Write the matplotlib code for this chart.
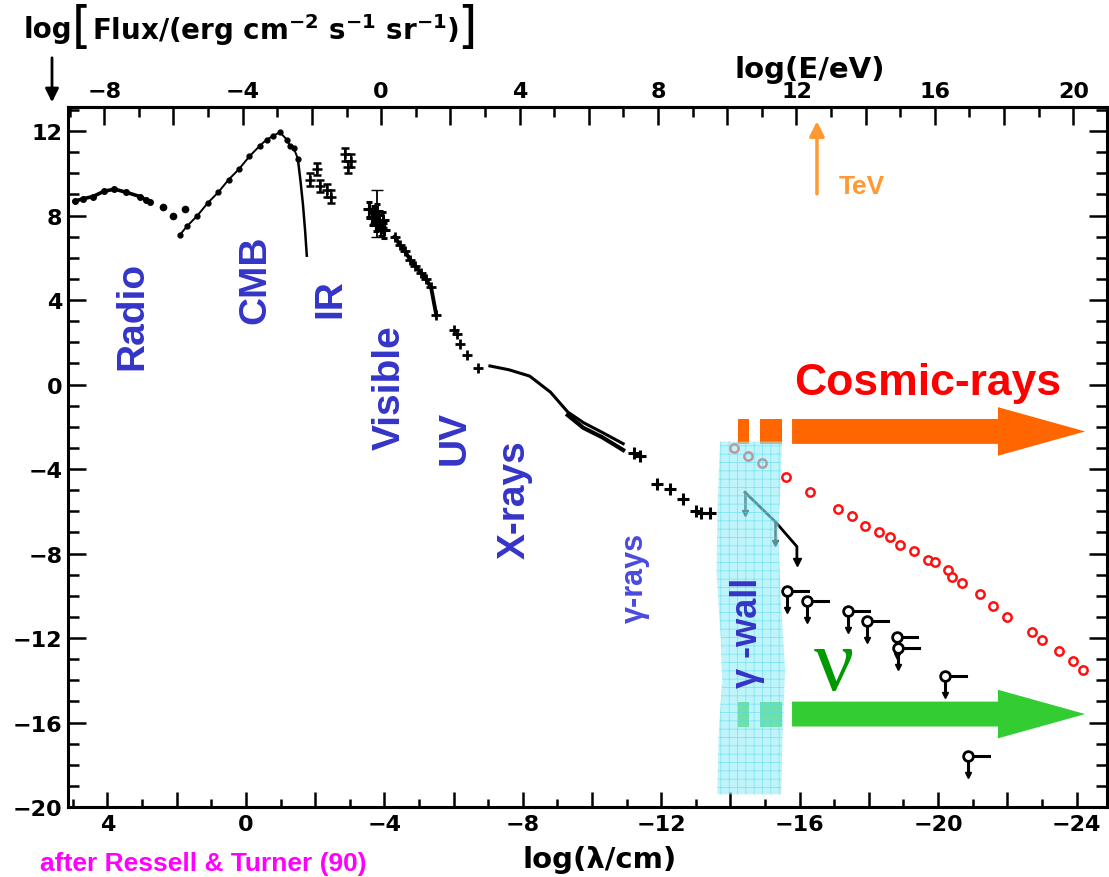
import matplotlib
matplotlib.use('Agg')
import matplotlib.pyplot as plt
from matplotlib.patches import Polygon, FancyArrow, Rectangle
from matplotlib.ticker import MultipleLocator, FuncFormatter

plt.rcParams['font.family'] = ['DejaVu Sans']
plt.rcParams['mathtext.default'] = 'bf'
plt.rcParams['hatch.linewidth'] = 0.6

W, H = 1109, 878
LOG_HC = -3.907  # log10(hc / eV cm)

# --- data: log(lambda/cm), log(flux) ---
radio_lam = [4.95, 4.7, 4.42, 4.1, 3.8, 3.45, 3.06, 2.9, 2.77]
radio_flux = [8.68, 8.8, 8.9, 9.15, 9.25, 9.1, 8.9, 8.75, 8.64]

gap_lam = [2.4, 2.1, 1.75]
gap_flux = [8.4, 8.0, 8.3]

cmb_lam = [1.9, 1.7, 1.4, 1.1, 0.8, 0.5, 0.2, -0.1, -0.4, -0.6, -0.78, -0.98, -1.18, -1.27, -1.38, -1.5]
cmb_flux = [7.1, 7.5, 8.0, 8.6, 9.1, 9.7, 10.2, 10.8, 11.3, 11.6, 11.76, 11.95, 11.6, 11.3, 11.2, 10.7]

cmb_tail_lam = [-1.5, -1.58, -1.65, -1.71, -1.76]
cmb_tail_flux = [10.7, 9.6, 8.5, 7.3, 6.1]

ir_lam = [-1.85, -2.05, -2.15, -2.35, -2.45, -2.85, -2.95, -3.05]
ir_flux = [9.7, 10.2, 9.4, 9.2, 8.9, 10.9, 10.3, 10.6]

vis_lam = [-3.55, -3.65, -3.7, -3.75, -3.8, -3.85, -3.9, -3.95, -4.0]
vis_flux = [8.3, 7.9, 8.1, 7.6, 8.2, 7.7, 7.4, 7.8, 7.3]

uv_lam = [-4.3, -4.45, -4.6, -4.75, -4.9, -5.05, -5.2, -5.35, -5.5, -6.0, -6.1, -6.2, -6.4, -6.7]
uv_flux = [7.0, 6.6, 6.3, 5.9, 5.6, 5.3, 5.0, 4.6, 3.3, 2.6, 2.4, 1.9, 1.4, 0.8]

xray_lam = [-7.05, -7.6, -8.2, -8.8, -9.3, -9.75, -10.3, -10.9]
xray_flux = [0.88, 0.7, 0.4, -0.36, -1.3, -1.8, -2.27, -2.8]
xray2_lam = [-9.3, -9.75, -10.3, -10.9]
xray2_flux = [-1.45, -2.05, -2.5, -3.1]

gam_lam = [-11.2, -11.4, -11.88, -12.25, -12.63, -13.0, -13.15, -13.4]
gam_flux = [-3.25, -3.4, -4.7, -4.95, -5.4, -6.0, -6.1, -6.1]

ul_lam = [-14.42, -15.3, -15.92, -15.92]
ul_flux = [-5.1, -6.5, -7.67, -8.4]

lim_lam = [-15.64, -16.21, -17.4, -17.95, -18.8, -18.85, -20.2, -20.87]
lim_flux = [-9.78, -10.25, -10.7, -11.2, -11.95, -12.45, -13.8, -17.6]

cr_lam = [-14.1, -14.5, -14.9, -15.6, -16.3, -17.1, -17.5, -17.9, -18.3, -18.6, -18.9, -19.3,
          -19.7, -19.9, -20.3, -20.4, -20.7, -21.2, -21.6, -22.0, -22.7, -23.0, -23.5, -23.9, -24.2]
cr_flux = [-3.0, -3.4, -3.7, -4.4, -5.1, -5.9, -6.2, -6.7, -7.0, -7.2, -7.6, -7.9,
           -8.3, -8.4, -8.8, -9.1, -9.4, -9.9, -10.5, -11.0, -11.7, -12.1, -12.6, -13.1, -13.5]

# gamma-wall band outline
wall_left = [(-13.70, -2.7), (-13.62, -6.0), (-13.60, -9.0), (-13.72, -12.0),
             (-13.76, -14.0), (-13.66, -16.5), (-13.62, -19.4)]
wall_right = [(-15.47, -19.4), (-15.50, -17.0), (-15.58, -13.5), (-15.45, -10.0),
              (-15.38, -7.0), (-15.45, -4.5), (-15.49, -2.7)]

region_labels = ['Radio', 'CMB', 'IR', 'Visible', 'UV', 'X-rays']
region_lam = [3.27, -0.26, -2.43, -4.16, -6.04, -7.77]
region_flux = [3.3, 5.0, 4.1, -0.1, -2.5, -5.4]


def every4(v, pos):
    n = int(round(v))
    if n % 4:
        return ''
    return str(n).replace('-', '\u2212')


fig = plt.figure(figsize=(W / 100, H / 100), dpi=100)
ax = fig.add_axes([68 / W, 1 - 808 / H, (1107 - 68) / W, (808 - 108) / H])
ax.set_xlim(5.14, -24.88)
ax.set_ylim(-20, 13.14)

for s in ax.spines.values():
    s.set_linewidth(2.2)

ax.xaxis.set_major_locator(MultipleLocator(2))
ax.xaxis.set_minor_locator(MultipleLocator(1))
ax.xaxis.set_major_formatter(FuncFormatter(every4))
ax.yaxis.set_major_locator(MultipleLocator(4))
ax.yaxis.set_minor_locator(MultipleLocator(1))
ax.yaxis.set_major_formatter(FuncFormatter(every4))
ax.tick_params(which='both', direction='in', top=False, right=True, width=1.8,
               labelsize=16, labelright=False)
ax.tick_params(axis='x', which='major', length=11, pad=5)
ax.tick_params(axis='x', which='minor', length=6)
ax.tick_params(axis='y', which='major', length=13, pad=4)
ax.tick_params(axis='y', which='minor', length=8)
for lab in ax.get_xticklabels() + ax.get_yticklabels():
    lab.set_fontweight('bold')

sec = ax.secondary_xaxis('top', functions=(lambda l: LOG_HC - l, lambda e: LOG_HC - e))
sec.xaxis.set_major_locator(MultipleLocator(2))
sec.xaxis.set_minor_locator(MultipleLocator(1))
sec.xaxis.set_major_formatter(FuncFormatter(every4))
sec.tick_params(which='both', direction='in', width=1.8, labelsize=16, pad=4)
sec.tick_params(which='major', length=13)
sec.tick_params(which='minor', length=7)
sec.spines['top'].set_linewidth(2.2)
for lab in sec.get_xticklabels():
    lab.set_fontweight('bold')

# --- black measurements ---
k = 'black'
ax.plot(radio_lam, radio_flux, '-', color=k, lw=2.6, marker='o', ms=4, zorder=3)
ax.plot(gap_lam, gap_flux, 'o', color=k, ms=4.5, zorder=3)
ax.plot(cmb_lam, cmb_flux, '-', color=k, lw=1.4, marker='o', ms=3.5, zorder=3)
ax.plot(cmb_tail_lam, cmb_tail_flux, '-', color=k, lw=1.8, zorder=3)
ax.errorbar(ir_lam, ir_flux, yerr=0.3, fmt='+', color=k, ms=7, mew=1.8, capsize=3, lw=1.3, zorder=3)
ax.errorbar(vis_lam, vis_flux, yerr=0.35, fmt='+', color=k, ms=8, mew=2.2, capsize=2, lw=1.5, zorder=3)
ax.errorbar([-3.8], [8.1], yerr=[[1.1], [1.1]], fmt='none', ecolor=k, capsize=4, lw=1.3, zorder=3)
ax.plot(uv_lam, uv_flux, '+', color=k, ms=7, mew=2.0, zorder=3)
ax.plot(uv_lam[:9], uv_flux[:9], '-', color=k, lw=2.8, zorder=3)
ax.plot(xray_lam, xray_flux, '-', color=k, lw=2.2, zorder=3)
ax.plot(xray2_lam, xray2_flux, '-', color=k, lw=3.0, zorder=3)
ax.plot(gam_lam, gam_flux, '+', color=k, ms=8, mew=2.2, zorder=3)
ax.plot(ul_lam, ul_flux, '-', color=k, lw=2.0, zorder=3)
ax.plot(ul_lam[-1], ul_flux[-1], 'v', color=k, ms=6, zorder=3)
for l, f in zip(ul_lam[:2], ul_flux[:2]):
    ax.plot([l, l], [f, f - 1.0], color=k, lw=1.8, zorder=3)
    ax.plot(l, f - 1.0, 'v', color=k, ms=5, zorder=3)
for l, f in zip(lim_lam, lim_flux):
    ax.plot([l, l], [f, f - 0.9], color=k, lw=2.2, zorder=3)
    ax.plot([l, l - 0.6], [f, f], color=k, lw=2.2, zorder=3)
    ax.plot(l, f - 0.9, 'v', color=k, ms=5, zorder=3)
    ax.plot(l, f, 'o', mfc='white', mec=k, ms=7, mew=2.0, zorder=3)

# cosmic-ray points
ax.plot(cr_lam, cr_flux, 'o', mfc='white', mec='#ff1010', ms=6, mew=1.8, zorder=3)

# --- arrows: cosmic rays (orange) and neutrinos (green) ---
for yc, col in [(-2.22, '#ff6600'), (-15.6, '#33cc33')]:
    for l0, l1 in [(-14.22, -14.54), (-14.86, -15.49)]:
        ax.add_patch(Rectangle((l0, yc - 0.59), l1 - l0, 1.18, color=col, lw=0, zorder=4))
    ax.add_patch(FancyArrow(-15.78, yc, -24.25 + 15.78, 0, width=1.18, head_width=2.3,
                            head_length=2.52, length_includes_head=True, color=col, lw=0, zorder=4))

# gamma wall band
band = Polygon(wall_left + wall_right, closed=True, facecolor='#98eef8', edgecolor='#50dcee',
               lw=0, hatch='++', alpha=0.6, zorder=5)
ax.add_patch(band)

# --- text labels ---
blue = '#3434c8'
for t, l, f in zip(region_labels, region_lam, region_flux):
    ax.text(l, f, t, rotation=90, ha='center', va='center', fontsize=28, fontweight='bold',
            color=blue, family='Liberation Sans', zorder=6)
ax.text(-11.24, -9.1, '\u03b3-rays', rotation=90, ha='center', va='center', fontsize=22,
        fontweight='bold', color='#4a4ae0', family='Liberation Sans', zorder=6)
ax.text(-14.5, -11.7, '\u03b3 -wall', rotation=90, ha='center', va='center', fontsize=26,
        fontweight='bold', color=blue, family='Liberation Sans', zorder=6)
ax.text(-19.7, 0.1, 'Cosmic-rays', ha='center', va='center', fontsize=32, fontweight='bold',
        color='#ff0000', family='Liberation Sans', zorder=6)
ax.text(-17.0, -13.4, '\u03bd', ha='center', va='center', fontsize=64, color='#009a00',
        family='Liberation Serif', zorder=6)
ax.text(-17.8, 9.4, 'TeV', ha='center', va='center', fontsize=19, fontweight='bold',
        color='#ff9933', family='Liberation Sans', zorder=6)
ax.annotate('', xy=(-16.5, 12.6), xytext=(-16.5, 8.9),
            arrowprops=dict(arrowstyle='-|>', color='#ff9933', lw=2.5, mutation_scale=22), zorder=6)

# --- axis titles drawn around the frame ---
fig.text(24 / W, 1 - 30 / H, 'log', fontsize=20, fontweight='bold', va='center')
fig.text(72 / W, 1 - 28 / H, '[', fontsize=36, va='center')
fig.text(92 / W, 1 - 30 / H, 'Flux/(erg cm$^{-2}$ s$^{-1}$ sr$^{-1}$)', fontsize=20,
         fontweight='bold', va='center')
fig.text(457 / W, 1 - 28 / H, ']', fontsize=36, va='center')
fig.text(810 / W, 1 - 70 / H, 'log(E/eV)', fontsize=21, fontweight='bold', ha='center', va='center')
fig.text(600 / W, 1 - 860 / H, 'log(\u03bb/cm)', fontsize=21, fontweight='bold', ha='center', va='center')
fig.text(40 / W, 1 - 876 / H, 'after Ressell & Turner (90)', fontsize=19, fontweight='bold',
         color='#ff00ff', family='Liberation Sans', va='bottom')
ax.annotate('', xy=(52 / W, 1 - 106 / H), xytext=(52 / W, 1 - 56 / H),
            xycoords='figure fraction', textcoords='figure fraction',
            arrowprops=dict(arrowstyle='-|>', color='black', lw=2, mutation_scale=20))

fig.savefig('out.png', dpi=100)
